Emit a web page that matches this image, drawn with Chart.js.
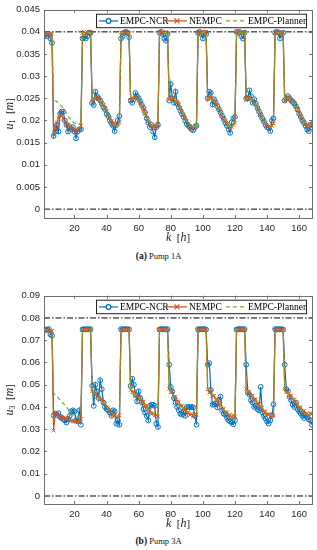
<!DOCTYPE html>
<html>
<head>
<meta charset="utf-8">
<script src="https://cdn.jsdelivr.net/npm/chart.js"></script>
<style>
  body { margin: 0; background: #fff; }
  #page { position: relative; width: 317px; height: 550px; overflow: hidden; }
  canvas { position: absolute; left: 0; }
  .caption { position: absolute; left: 0; width: 317px; text-align: center; font-family: "Liberation Serif", serif; font-size: 8.5px; color: #111; }
  .caption b { font-size: 9.5px; }
</style>
</head>
<body>
<div id="page">
  <canvas id="chart1" width="317" height="250" style="top:0px"></canvas>
  <div class="caption" style="top:251px"><b>(a)</b> Pump 1A</div>
  <canvas id="chart3" width="317" height="250" style="top:286px"></canvas>
  <div class="caption" style="top:536px"><b>(b)</b> Pump 3A</div>
</div>
<script>
// hours k = 1..168
var hours = [];
for (var k = 1; k <= 168; k++) hours.push(k);

var xTicks = [20, 40, 60, 80, 100, 120, 140, 160];
var yTicks1 = [0, 0.005, 0.01, 0.015, 0.02, 0.025, 0.03, 0.035, 0.04, 0.045];
var yTicks3 = [0, 0.01, 0.02, 0.03, 0.04, 0.05, 0.06, 0.07, 0.08, 0.09];
var limits1 = [0, 0.04];
var limits3 = [0, 0.08];

// Pump 1A
var ncr1 = [
  0.0390,0.0395,0.0390,0.0395,0.0385,0.0375, 0.0165,0.0175,0.0190,0.0175,0.0215,0.0220,0.0220,0.0200,0.0190,0.0175,0.0185,0.0180,0.0185,0.0175,0.0160,0.0175,0.0180,0.0180,
  0.0385,0.0388,0.0385,0.0390,0.0398,0.0398, 0.0240,0.0235,0.0265,0.0255,0.0250,0.0245,0.0238,0.0230,0.0225,0.0215,0.0210,0.0200,0.0193,0.0188,0.0176,0.0190,0.0200,0.0210,
  0.0385,0.0390,0.0398,0.0400,0.0398,0.0388, 0.0245,0.0240,0.0248,0.0262,0.0255,0.0250,0.0243,0.0235,0.0228,0.0218,0.0205,0.0195,0.0185,0.0190,0.0175,0.0162,0.0185,0.0190,
  0.0398,0.0400,0.0395,0.0385,0.0380,0.0395, 0.0245,0.0282,0.0250,0.0240,0.0265,0.0238,0.0230,0.0222,0.0215,0.0208,0.0200,0.0192,0.0188,0.0184,0.0180,0.0178,0.0185,0.0188,
  0.0398,0.0400,0.0395,0.0385,0.0398,0.0395, 0.0250,0.0265,0.0262,0.0236,0.0248,0.0240,0.0232,0.0225,0.0218,0.0210,0.0203,0.0195,0.0188,0.0180,0.0172,0.0196,0.0205,0.0208,
  0.0400,0.0398,0.0400,0.0390,0.0385,0.0398, 0.0250,0.0250,0.0268,0.0255,0.0240,0.0248,0.0238,0.0228,0.0220,0.0212,0.0205,0.0198,0.0190,0.0185,0.0183,0.0176,0.0200,0.0205,
  0.0398,0.0400,0.0398,0.0385,0.0395,0.0398, 0.0245,0.0250,0.0255,0.0250,0.0245,0.0242,0.0238,0.0232,0.0225,0.0215,0.0208,0.0200,0.0195,0.0188,0.0180,0.0176,0.0190,0.0185
];
var nempc1 = [
  0.0396,0.0395,0.0393,0.0392,0.0394,0.0396, 0.0168,0.0185,0.0195,0.0205,0.0212,0.0210,0.0205,0.0198,0.0192,0.0190,0.0186,0.0183,0.0180,0.0178,0.0175,0.0178,0.0182,0.0188,
  0.0398,0.0400,0.0397,0.0399,0.0400,0.0398, 0.0245,0.0250,0.0248,0.0252,0.0250,0.0245,0.0240,0.0235,0.0228,0.0220,0.0213,0.0205,0.0198,0.0193,0.0190,0.0188,0.0192,0.0195,
  0.0399,0.0397,0.0400,0.0398,0.0400,0.0396, 0.0245,0.0248,0.0250,0.0253,0.0250,0.0245,0.0240,0.0233,0.0225,0.0215,0.0205,0.0198,0.0192,0.0188,0.0185,0.0186,0.0188,0.0192,
  0.0400,0.0398,0.0399,0.0397,0.0400,0.0398, 0.0248,0.0255,0.0250,0.0248,0.0245,0.0242,0.0236,0.0228,0.0220,0.0212,0.0205,0.0198,0.0192,0.0188,0.0185,0.0183,0.0186,0.0190,
  0.0398,0.0400,0.0398,0.0396,0.0399,0.0400, 0.0248,0.0252,0.0250,0.0245,0.0246,0.0240,0.0234,0.0227,0.0220,0.0212,0.0205,0.0198,0.0192,0.0186,0.0182,0.0185,0.0190,0.0195,
  0.0400,0.0398,0.0400,0.0397,0.0398,0.0400, 0.0246,0.0250,0.0252,0.0248,0.0245,0.0242,0.0236,0.0228,0.0222,0.0214,0.0206,0.0200,0.0194,0.0189,0.0186,0.0184,0.0188,0.0193,
  0.0399,0.0400,0.0398,0.0397,0.0400,0.0398, 0.0244,0.0248,0.0252,0.0248,0.0246,0.0243,0.0238,0.0232,0.0225,0.0217,0.0210,0.0203,0.0197,0.0192,0.0188,0.0186,0.0192,0.0196
];
var planner1 = [
  0.0398,0.0398,0.0398,0.0398,0.0398,0.0398, 0.0245,0.0245,0.0243,0.0240,0.0236,0.0232,0.0228,0.0222,0.0216,0.0210,0.0205,0.0200,0.0197,0.0194,0.0192,0.0190,0.0192,0.0195,
  0.0398,0.0398,0.0398,0.0398,0.0398,0.0398, 0.0247,0.0249,0.0250,0.0250,0.0248,0.0244,0.0238,0.0232,0.0225,0.0218,0.0210,0.0203,0.0197,0.0192,0.0189,0.0188,0.0190,0.0194,
  0.0398,0.0398,0.0398,0.0398,0.0398,0.0398, 0.0246,0.0248,0.0251,0.0251,0.0248,0.0244,0.0238,0.0231,0.0223,0.0214,0.0205,0.0198,0.0192,0.0188,0.0186,0.0186,0.0189,0.0192,
  0.0398,0.0398,0.0398,0.0398,0.0398,0.0398, 0.0249,0.0252,0.0250,0.0247,0.0245,0.0241,0.0235,0.0228,0.0220,0.0212,0.0205,0.0198,0.0193,0.0189,0.0186,0.0185,0.0187,0.0190,
  0.0398,0.0398,0.0398,0.0398,0.0398,0.0398, 0.0249,0.0251,0.0249,0.0246,0.0244,0.0240,0.0234,0.0227,0.0220,0.0212,0.0205,0.0198,0.0192,0.0187,0.0184,0.0185,0.0189,0.0194,
  0.0398,0.0398,0.0398,0.0398,0.0398,0.0398, 0.0247,0.0250,0.0251,0.0248,0.0245,0.0241,0.0235,0.0228,0.0221,0.0214,0.0207,0.0200,0.0194,0.0190,0.0187,0.0185,0.0188,0.0192,
  0.0398,0.0398,0.0398,0.0398,0.0398,0.0398, 0.0245,0.0248,0.0250,0.0248,0.0246,0.0242,0.0237,0.0231,0.0225,0.0218,0.0211,0.0204,0.0198,0.0193,0.0189,0.0187,0.0190,0.0194
];

// Pump 3A
var ncr3 = [
  0.0750,0.0746,0.0748,0.0750,0.0726,0.0720, 0.0362,0.0370,0.0365,0.0372,0.0355,0.0350,0.0345,0.0340,0.0330,0.0345,0.0360,0.0380,0.0385,0.0380,0.0340,0.0335,0.0385,0.0320,
  0.0748,0.0750,0.0748,0.0750,0.0749,0.0750, 0.0495,0.0405,0.0500,0.0470,0.0440,0.0520,0.0480,0.0420,0.0400,0.0390,0.0385,0.0375,0.0360,0.0385,0.0380,0.0325,0.0340,0.0320,
  0.0750,0.0748,0.0750,0.0749,0.0750,0.0748, 0.0495,0.0527,0.0500,0.0455,0.0425,0.0470,0.0440,0.0420,0.0390,0.0375,0.0360,0.0340,0.0405,0.0410,0.0410,0.0405,0.0325,0.0310,
  0.0748,0.0750,0.0749,0.0750,0.0748,0.0750, 0.0590,0.0490,0.0470,0.0440,0.0420,0.0400,0.0385,0.0370,0.0365,0.0380,0.0360,0.0400,0.0400,0.0398,0.0400,0.0398,0.0360,0.0320,
  0.0750,0.0748,0.0750,0.0749,0.0750,0.0748, 0.0590,0.0597,0.0476,0.0410,0.0412,0.0415,0.0398,0.0432,0.0446,0.0385,0.0370,0.0365,0.0352,0.0340,0.0335,0.0330,0.0322,0.0340,
  0.0748,0.0750,0.0749,0.0750,0.0748,0.0750, 0.0590,0.0465,0.0455,0.0430,0.0420,0.0400,0.0405,0.0390,0.0385,0.0490,0.0375,0.0360,0.0348,0.0335,0.0325,0.0340,0.0360,0.0412,
  0.0750,0.0748,0.0750,0.0749,0.0750,0.0748, 0.0590,0.0480,0.0470,0.0446,0.0430,0.0410,0.0400,0.0420,0.0390,0.0380,0.0370,0.0360,0.0350,0.0365,0.0355,0.0345,0.0340,0.0320
];
var nempc3 = [
  0.0745,0.0742,0.0745,0.0743,0.0740,0.0742, 0.0294,0.0372,0.0368,0.0362,0.0358,0.0355,0.0352,0.0350,0.0345,0.0342,0.0340,0.0338,0.0336,0.0335,0.0334,0.0333,0.0338,0.0345,
  0.0748,0.0745,0.0748,0.0746,0.0748,0.0745, 0.0470,0.0458,0.0462,0.0446,0.0448,0.0432,0.0436,0.0418,0.0415,0.0398,0.0395,0.0378,0.0376,0.0362,0.0364,0.0352,0.0358,0.0362,
  0.0746,0.0748,0.0745,0.0748,0.0746,0.0748, 0.0476,0.0466,0.0468,0.0450,0.0455,0.0440,0.0442,0.0425,0.0424,0.0405,0.0403,0.0386,0.0384,0.0368,0.0372,0.0360,0.0366,0.0358,
  0.0748,0.0745,0.0748,0.0746,0.0748,0.0745, 0.0482,0.0466,0.0468,0.0445,0.0446,0.0425,0.0424,0.0405,0.0406,0.0388,0.0390,0.0374,0.0376,0.0364,0.0369,0.0358,0.0368,0.0366,
  0.0746,0.0748,0.0745,0.0748,0.0746,0.0748, 0.0480,0.0465,0.0468,0.0450,0.0450,0.0432,0.0432,0.0413,0.0412,0.0394,0.0392,0.0376,0.0376,0.0361,0.0364,0.0352,0.0362,0.0358,
  0.0748,0.0745,0.0748,0.0746,0.0748,0.0745, 0.0480,0.0468,0.0467,0.0450,0.0451,0.0434,0.0434,0.0416,0.0414,0.0396,0.0396,0.0380,0.0380,0.0366,0.0368,0.0356,0.0366,0.0361,
  0.0746,0.0748,0.0745,0.0748,0.0746,0.0748, 0.0482,0.0468,0.0469,0.0451,0.0452,0.0435,0.0434,0.0416,0.0414,0.0398,0.0398,0.0382,0.0382,0.0368,0.0372,0.0361,0.0372,0.0368
];
var planner3 = [
  0.0748,0.0748,0.0748,0.0748,0.0748,0.0748, 0.0462,0.0455,0.0448,0.0440,0.0432,0.0424,0.0416,0.0408,0.0400,0.0390,0.0378,0.0370,0.0365,0.0360,0.0358,0.0356,0.0360,0.0365,
  0.0748,0.0748,0.0748,0.0748,0.0748,0.0748, 0.0468,0.0462,0.0456,0.0450,0.0444,0.0437,0.0430,0.0421,0.0411,0.0401,0.0391,0.0382,0.0374,0.0367,0.0361,0.0357,0.0356,0.0360,
  0.0748,0.0748,0.0748,0.0748,0.0748,0.0748, 0.0473,0.0468,0.0462,0.0456,0.0450,0.0444,0.0437,0.0429,0.0420,0.0410,0.0400,0.0390,0.0381,0.0374,0.0369,0.0366,0.0363,0.0361,
  0.0748,0.0748,0.0748,0.0748,0.0748,0.0748, 0.0478,0.0470,0.0461,0.0451,0.0441,0.0431,0.0421,0.0411,0.0401,0.0393,0.0386,0.0379,0.0373,0.0369,0.0366,0.0364,0.0366,0.0370,
  0.0748,0.0748,0.0748,0.0748,0.0748,0.0748, 0.0476,0.0469,0.0461,0.0454,0.0446,0.0437,0.0428,0.0418,0.0408,0.0398,0.0389,0.0381,0.0373,0.0366,0.0361,0.0358,0.0359,0.0362,
  0.0748,0.0748,0.0748,0.0748,0.0748,0.0748, 0.0477,0.0471,0.0463,0.0455,0.0447,0.0439,0.0430,0.0420,0.0410,0.0401,0.0392,0.0384,0.0377,0.0370,0.0365,0.0361,0.0362,0.0365,
  0.0748,0.0748,0.0748,0.0748,0.0748,0.0748, 0.0479,0.0472,0.0464,0.0456,0.0448,0.0440,0.0431,0.0421,0.0411,0.0402,0.0394,0.0386,0.0379,0.0373,0.0368,0.0366,0.0368,0.0371
];

var BLUE = "#0072BD";
var ORANGE = "#D95319";
var GREEN = "#77AC30";
var AXIS = "#6f6f6f";

// draws text pieces one after another, [text, font, dy]
function drawPieces(ctx, pieces, x, y) {
  var total = 0;
  pieces.forEach(function(p) { ctx.font = p[1]; total += ctx.measureText(p[0]).width; });
  var cx = x - total / 2;
  pieces.forEach(function(p) {
    ctx.font = p[1];
    ctx.fillText(p[0], cx, y + (p[2] || 0));
    cx += ctx.measureText(p[0]).width;
  });
}

var decorPlugin = {
  id: "decor",
  afterDraw: function(chart) {
    var ctx = chart.ctx;
    var a = chart.chartArea;
    var xs = chart.scales.x, ys = chart.scales.y;
    ctx.save();
    // box + inward ticks
    ctx.strokeStyle = AXIS;
    ctx.lineWidth = 1;
    ctx.strokeRect(Math.round(a.left) + 0.5, Math.round(a.top) + 0.5, Math.round(a.right - a.left), Math.round(a.bottom - a.top));
    ctx.beginPath();
    xTicks.forEach(function(v) {
      var px = Math.round(xs.getPixelForValue(v)) + 0.5;
      ctx.moveTo(px, a.bottom); ctx.lineTo(px, a.bottom - 3);
      ctx.moveTo(px, a.top); ctx.lineTo(px, a.top + 3);
    });
    chart.options.yTickList.forEach(function(v) {
      var py = Math.round(ys.getPixelForValue(v)) + 0.5;
      ctx.moveTo(a.left, py); ctx.lineTo(a.left + 3, py);
      ctx.moveTo(a.right, py); ctx.lineTo(a.right - 3, py);
    });
    ctx.stroke();

    // legend box
    var bx = a.right - 216, by = a.top + 4, bw = 210, bh = 13.5;
    ctx.fillStyle = "#fff";
    ctx.fillRect(bx, by, bw, bh);
    ctx.strokeStyle = "#222";
    ctx.strokeRect(bx + 0.5, by + 0.5, bw, bh);
    var cy = by + bh / 2 + 0.5;
    ctx.font = "9.5px 'Liberation Serif'";
    ctx.textBaseline = "middle";
    ctx.textAlign = "left";
    // EMPC-NCR
    ctx.strokeStyle = BLUE; ctx.lineWidth = 1.2;
    ctx.beginPath(); ctx.moveTo(bx + 3, cy); ctx.lineTo(bx + 22, cy); ctx.stroke();
    ctx.beginPath(); ctx.arc(bx + 12.5, cy, 2.4, 0, Math.PI * 2); ctx.fillStyle = "#fff"; ctx.fill(); ctx.stroke();
    ctx.fillStyle = "#000"; ctx.fillText("EMPC-NCR", bx + 24, cy + 0.5);
    // NEMPC
    ctx.strokeStyle = ORANGE;
    ctx.beginPath(); ctx.moveTo(bx + 71, cy); ctx.lineTo(bx + 91, cy);
    ctx.moveTo(bx + 78.5, cy - 2.5); ctx.lineTo(bx + 83.5, cy + 2.5);
    ctx.moveTo(bx + 78.5, cy + 2.5); ctx.lineTo(bx + 83.5, cy - 2.5);
    ctx.stroke();
    ctx.fillText("NEMPC", bx + 93, cy + 0.5);
    // EMPC-Planner
    ctx.strokeStyle = GREEN; ctx.lineWidth = 1.3; ctx.setLineDash([4, 3]);
    ctx.beginPath(); ctx.moveTo(bx + 130, cy); ctx.lineTo(bx + 150, cy); ctx.stroke();
    ctx.setLineDash([]);
    ctx.fillText("EMPC-Planner", bx + 152, cy + 0.5);

    // axis titles
    ctx.fillStyle = "#222";
    ctx.textAlign = "left";
    ctx.textBaseline = "middle";
    var sub = chart.options.subscript;
    ctx.save();
    ctx.translate(10, (a.top + a.bottom) / 2);
    ctx.rotate(-Math.PI / 2);
    drawPieces(ctx, [
      ["u", "italic 12px 'Liberation Serif'", 0],
      [sub, "8px 'Liberation Serif'", 3],
      ["  [", "11px 'Liberation Serif'", 0],
      ["m", "italic 12px 'Liberation Serif'", 0],
      ["]", "11px 'Liberation Serif'", 0]
    ], 0, 0);
    ctx.restore();
    drawPieces(ctx, [
      ["k", "italic 12px 'Liberation Serif'", 0],
      ["  [", "11px 'Liberation Serif'", 0],
      ["h", "italic 12px 'Liberation Serif'", 0],
      ["]", "11px 'Liberation Serif'", 0]
    ], (a.left + a.right) / 2, a.bottom + 20);
    ctx.restore();
  }
};

function makeChart(id, ncr, nempc, planner, limits, yMin, yMax, yTickList, sub) {
  var limitSets = limits.map(function(v) {
    return {
      data: [{ x: 1, y: v }, { x: 168, y: v }],
      borderColor: "#000",
      borderWidth: 1,
      borderDash: [6, 2, 1.5, 2],
      pointRadius: 0,
      order: 5
    };
  });
  return new Chart(document.getElementById(id), {
    type: "line",
    data: {
      labels: hours,
      datasets: [
        {
          label: "EMPC-NCR", data: ncr, borderColor: BLUE, borderWidth: 1.2,
          pointStyle: "circle", pointRadius: 2.4, pointBorderWidth: 1,
          pointBorderColor: BLUE, pointBackgroundColor: "rgba(255,255,255,0)", order: 3
        },
        {
          label: "NEMPC", data: nempc, borderColor: ORANGE, borderWidth: 1.2,
          pointStyle: "crossRot", pointRadius: 2.6, pointBorderWidth: 1,
          pointBorderColor: ORANGE, order: 2
        },
        {
          label: "EMPC-Planner", data: planner, borderColor: GREEN, borderWidth: 1.3,
          borderDash: [4, 3], pointRadius: 0, order: 1
        }
      ].concat(limitSets)
    },
    options: {
      responsive: false,
      animation: false,
      events: [],
      subscript: sub,
      yTickList: yTickList,
      layout: { padding: { top: 7, right: 5, left: 0, bottom: 0 } },
      plugins: { legend: { display: false }, tooltip: { enabled: false } },
      scales: {
        x: {
          type: "linear", min: 1, max: 168,
          grid: { display: false, drawTicks: false },
          border: { display: false },
          afterBuildTicks: function(scale) { scale.ticks = xTicks.map(function(v) { return { value: v }; }); },
          afterFit: function(scale) { scale.height = 32; },
          ticks: { padding: 5, color: "#262626", font: { family: "'Liberation Sans'", size: 9.5 }, maxRotation: 0 }
        },
        y: {
          min: yMin, max: yMax,
          grid: { display: false, drawTicks: false },
          border: { display: false },
          afterBuildTicks: function(scale) { scale.ticks = yTickList.map(function(v) { return { value: v }; }); },
          afterFit: function(scale) { scale.width = 44; },
          ticks: {
            padding: 4, color: "#262626", font: { family: "'Liberation Sans'", size: 9.5 },
            callback: function(v) { return String(v); }
          }
        }
      }
    },
    plugins: [decorPlugin]
  });
}

makeChart("chart1", ncr1, nempc1, planner1, limits1, -0.002, 0.045, yTicks1, "1");
makeChart("chart3", ncr3, nempc3, planner3, limits3, -0.0036, 0.09, yTicks3, "3");
</script>
</body>
</html>
